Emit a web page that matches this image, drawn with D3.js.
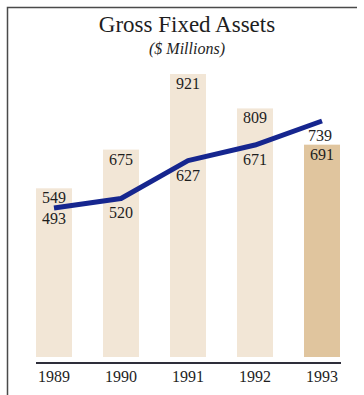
<!DOCTYPE html>
<html>
<head>
<meta charset="utf-8">
<script src="https://cdn.jsdelivr.net/npm/d3@7"></script>
<style>
  body { margin: 0; background: #fff; }
  svg text { font-family: "Liberation Serif", "DejaVu Serif", serif; fill: #1e1e1e; }
</style>
</head>
<body>
<svg id="canvas" width="364" height="395"></svg>
<script>
let years = ['1989', '1990', '1991', '1992', '1993']
let barValues = [549, 675, 921, 809, 691]
let lineValues = [493, 520, 627, 671, 739]

let canvas = d3.select('#canvas')

// frame: left and top edges only
canvas.append('path')
      .attr('d', 'M7.5,395 L7.5,7.5 L357,7.5')
      .attr('fill', 'none')
      .attr('stroke', '#4a4a4a')
      .attr('stroke-width', 1.5)

canvas.append('text')
      .attr('x', 187)
      .attr('y', 32)
      .attr('text-anchor', 'middle')
      .style('font-size', '23px')
      .text('Gross Fixed Assets')

canvas.append('text')
      .attr('x', 187)
      .attr('y', 54)
      .attr('text-anchor', 'middle')
      .style('font-size', '16px')
      .style('font-style', 'italic')
      .text('($ Millions)')

let xScale = d3.scaleBand()
               .domain(years)
               .range([36, 340])
               .paddingInner(0.463)
               .paddingOuter(0)

let yScale = d3.scaleLinear()
               .domain([0, 921])
               .range([357, 74])

// the line sits on its own (steeper) scale in the original
let yLine = d3.scaleLinear()
              .domain([493, 739])
              .range([208, 121])

canvas.selectAll('.bar')
      .data(barValues)
      .enter()
      .append('rect')
      .attr('class', 'bar')
      .attr('x', (d, i) => xScale(years[i]))
      .attr('width', xScale.bandwidth())
      .attr('y', (d) => yScale(d))
      .attr('height', (d) => yScale(0) - yScale(d))
      .attr('fill', (d, i) => i === years.length - 1 ? '#e0c59e' : '#f2e6d6')

canvas.selectAll('.bar-label')
      .data(barValues)
      .enter()
      .append('text')
      .attr('class', 'bar-label')
      .attr('x', (d, i) => xScale(years[i]) + xScale.bandwidth() / 2)
      .attr('y', (d) => yScale(d) + 15)
      .attr('text-anchor', 'middle')
      .style('font-size', '16px')
      .text((d) => d)

let line = d3.line()
             .x((d, i) => xScale(years[i]) + xScale.bandwidth() / 2)
             .y((d) => yLine(d))

canvas.append('path')
      .datum(lineValues)
      .attr('d', line)
      .attr('fill', 'none')
      .attr('stroke', '#16268f')
      .attr('stroke-width', 5)
      .attr('stroke-linejoin', 'round')

canvas.selectAll('.line-label')
      .data(lineValues)
      .enter()
      .append('text')
      .attr('class', 'line-label')
      .attr('x', (d, i) => xScale(years[i]) + xScale.bandwidth() / 2 - (i === 4 ? 2 : 0))
      .attr('y', (d, i) => yLine(d) + (i === 0 ? 16 : 20))
      .attr('text-anchor', 'middle')
      .style('font-size', '16px')
      .text((d) => d)

// baseline
canvas.append('line')
      .attr('x1', 36)
      .attr('x2', 341)
      .attr('y1', yScale(0) + 6)
      .attr('y2', yScale(0) + 6)
      .attr('stroke', '#2e2e3a')
      .attr('stroke-width', 2)

canvas.selectAll('.year')
      .data(years)
      .enter()
      .append('text')
      .attr('class', 'year')
      .attr('x', (d) => xScale(d) + xScale.bandwidth() / 2)
      .attr('y', 382)
      .attr('text-anchor', 'middle')
      .style('font-size', '16px')
      .text((d) => d)
</script>
</body>
</html>
